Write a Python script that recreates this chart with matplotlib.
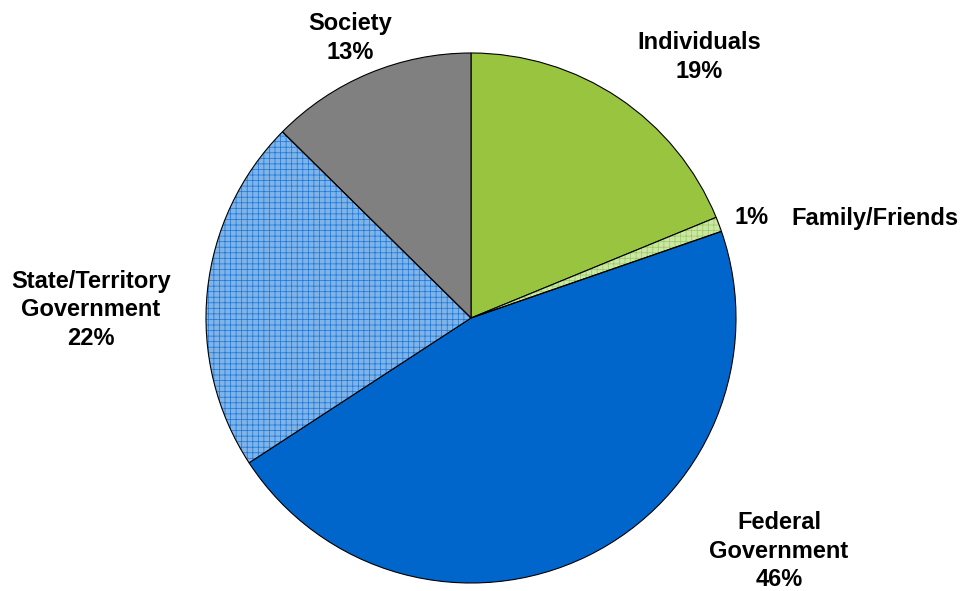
import matplotlib
matplotlib.use("Agg")
import matplotlib.pyplot as plt

# Funding shares (per cent), clockwise from 12 o'clock
categories = ["Individuals", "Family/Friends", "Federal Government",
              "State/Territory Government", "Society"]
shares = [18.8, 0.9, 46.1, 21.6, 12.6]

face_colors = ["#99C440", "#CCE6A3", "#0066CC", "#80B4E8", "#808080"]
hatch_colors = [None, "#99CC66", None, "#1F78D6", None]

plt.rcParams["font.family"] = ["Liberation Sans", "DejaVu Sans"]
plt.rcParams["hatch.linewidth"] = 0.55

W, H, DPI = 961, 591, 100
fig = plt.figure(figsize=(W / DPI, H / DPI), dpi=DPI)
ax = fig.add_axes([0, 0, 1, 1])

# pie geometry in pixels
cx, cy, rad = 471, 318, 265

wedges, _ = ax.pie(shares, colors=face_colors, startangle=90, counterclock=False,
                   radius=1.0, center=(0, 0), normalize=True,
                   wedgeprops=dict(edgecolor="black", linewidth=0.8))

# grid hatching in its own colour, then the black outline on top
for w, hc in zip(wedges, hatch_colors):
    if hc is None:
        continue
    w.set_edgecolor(hc)
    w.set_linewidth(0)
    w.set_hatch("+++")
    outline = matplotlib.patches.Wedge(w.center, w.r, w.theta1, w.theta2,
                                       facecolor="none", edgecolor="black",
                                       linewidth=0.8, zorder=w.get_zorder() + 0.1)
    ax.add_patch(outline)

ax.set_xlim(-cx / rad, (W - cx) / rad)
ax.set_ylim(-(H - cy) / rad, cy / rad)
ax.set_aspect("auto")
ax.axis("off")


def px(x, y):
    return (x - cx) / rad, (cy - y) / rad


label_style = dict(fontsize=17, fontweight="bold", ha="center", va="center",
                   linespacing=1.3)

pct = [f"{v:.0f}%" for v in shares]
ax.text(*px(699, 57), f"Individuals\n{pct[0]}", **label_style)
ax.text(*px(752, 218), pct[1], **label_style)
ax.text(*px(875, 218), categories[1], **label_style)
ax.text(*px(779, 551), f"Federal\nGovernment\n{pct[2]}", **label_style)
ax.text(*px(91, 310), f"State/Territory\nGovernment\n{pct[3]}", **label_style)
ax.text(*px(350, 38), f"Society\n{pct[4]}", **label_style)

fig.savefig("out.png", dpi=DPI)
